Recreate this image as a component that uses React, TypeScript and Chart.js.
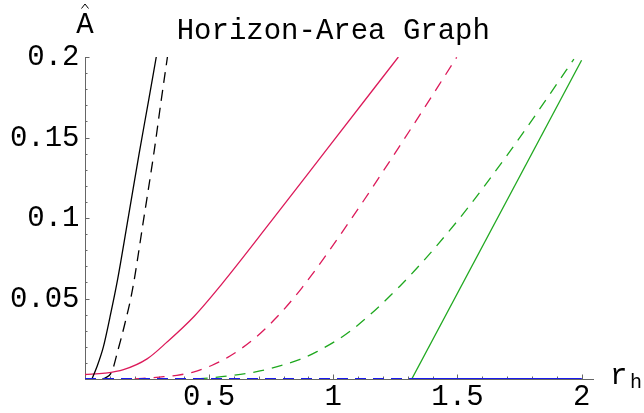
import React, { useEffect, useRef } from "react";
import { Chart, registerables } from "chart.js";

Chart.register(...registerables);

// ---- data ----
const blackSolidX = [0.028, 0.048, 0.074, 0.1, 0.131, 0.175, 0.218, 0.255, 0.287];
const blackSolidY = [0, 0.0076, 0.02, 0.038, 0.0615, 0.101, 0.14, 0.172, 0.2];

const blackDashX = [0.07, 0.081, 0.108, 0.132, 0.16, 0.191, 0.235, 0.279, 0.305, 0.332];
const blackDashY = [0, 0.0006, 0.0045, 0.0175, 0.034, 0.0553, 0.098, 0.142, 0.171, 0.2];

const redSolidX = [0, 0.08, 0.155, 0.25, 0.33, 0.44, 0.55, 0.75, 0.97, 1.262];
const redSolidY = [0.0028, 0.0036, 0.0058, 0.0125, 0.0229, 0.039, 0.0588, 0.098, 0.1418, 0.2];

const redDashX = [0.2, 0.3, 0.37, 0.436, 0.51, 0.584, 0.678, 0.77, 0.873, 1.065, 1.28, 1.497];
const redDashY = [0, 0.0012, 0.0023, 0.0043, 0.0084, 0.0143, 0.0246, 0.038, 0.0565, 0.0978, 0.1477, 0.1998];

const greenDashX = [0.45, 0.585, 0.705, 0.866, 0.934, 1.068, 1.269, 1.5, 1.725, 1.873, 1.969];
const greenDashY = [0, 0.002, 0.005, 0.0122, 0.017, 0.0297, 0.0578, 0.0982, 0.1443, 0.1771, 0.1987];

const greenSolidX = [1.316, 2.0];
const greenSolidY = [0, 0.198];

const blueDashX = [0, 2.0];
const blueDashY = [0, 0];

const blueSolidX = [1.316, 2.0];
const blueSolidY = [0, 0];

const xMajorTicks = [0.5, 1, 1.5, 2];
const xMajorLabels = ["0.5", "1", "1.5", "2"];
const yMajorTicks = [0.05, 0.1, 0.15, 0.2];
const yMajorLabels = ["0.05", "0.1", "0.15", "0.2"];

const titleText = "Horizon-Area Graph";

const pts = (xs: number[], ys: number[]) => xs.map((x, i) => ({ x, y: ys[i] }));

const MONO = '"Liberation Mono", "Courier New", monospace';
const RED = "#dc1a5a";
const GREEN = "#1fa81f";
const BLUE = "#1a1aee";

const axesPlugin = {
  id: "mmaAxes",
  beforeDatasetsDraw(chart: any) {
    const { ctx, scales } = chart;
    const xs = scales.x;
    const ys = scales.y;
    const x0 = xs.getPixelForValue(0);
    const y0 = ys.getPixelForValue(0);
    const xEnd = xs.getPixelForValue(xs.max);
    const yTop = ys.getPixelForValue(ys.max);
    ctx.save();
    ctx.strokeStyle = "#666";
    ctx.lineWidth = 1;
    ctx.beginPath();
    ctx.moveTo(x0, y0 + 0.5);
    ctx.lineTo(xEnd, y0 + 0.5);
    ctx.moveTo(x0 + 0.5, y0);
    ctx.lineTo(x0 + 0.5, yTop);
    ctx.stroke();
    // x ticks (inward, pointing up)
    ctx.beginPath();
    for (let i = 1; i <= 20; i++) {
      const v = i * 0.1;
      const px = Math.round(xs.getPixelForValue(v)) + 0.5;
      const major = i % 5 === 0;
      ctx.moveTo(px, y0);
      ctx.lineTo(px, y0 - (major ? 4.5 : 2.5));
    }
    // y ticks (inward, pointing right)
    for (let i = 1; i <= 20; i++) {
      const v = i * 0.01;
      const py = Math.round(ys.getPixelForValue(v)) + 0.5;
      const major = i % 5 === 0;
      ctx.moveTo(x0, py);
      ctx.lineTo(x0 + (major ? 4.5 : 2.5), py);
    }
    ctx.stroke();
    ctx.restore();
  },
  afterDraw(chart: any) {
    const { ctx, scales } = chart;
    const xs = scales.x;
    const ys = scales.y;
    const x0 = xs.getPixelForValue(0);
    const y0 = ys.getPixelForValue(0);
    ctx.save();
    ctx.fillStyle = "#000";
    ctx.font = `29px ${MONO}`;
    ctx.textBaseline = "alphabetic";
    // x tick labels
    ctx.textAlign = "center";
    xMajorTicks.forEach((v, i) => {
      ctx.fillText(xMajorLabels[i], xs.getPixelForValue(v), y0 + 26);
    });
    // y tick labels
    ctx.textAlign = "right";
    yMajorTicks.forEach((v, i) => {
      ctx.fillText(yMajorLabels[i], x0 - 5.5, ys.getPixelForValue(v) + 8.4);
    });
    // title
    ctx.textAlign = "center";
    ctx.fillText(titleText, 333.3, 39.3);
    // y axis label: A with hat
    ctx.fillText("A", x0, 33.3);
    ctx.strokeStyle = "#000";
    ctx.lineWidth = 1;
    ctx.beginPath();
    ctx.moveTo(x0 - 3.5, 8.5);
    ctx.lineTo(x0, 4);
    ctx.lineTo(x0 + 3.5, 8.5);
    ctx.stroke();
    // x axis label r_h
    ctx.textAlign = "left";
    ctx.fillText("r", 610, 384);
    ctx.font = `20px ${MONO}`;
    ctx.fillText("h", 630, 388);
    ctx.restore();
  },
};

export default function App() {
  const canvasRef = useRef<HTMLCanvasElement | null>(null);

  useEffect(() => {
    const canvas = canvasRef.current;
    if (!canvas) return;
    const mk = (data: any, color: string, dash: number[], width = 1.3) => ({
      data,
      borderColor: color,
      backgroundColor: color,
      borderWidth: width,
      borderDash: dash,
      pointRadius: 0,
      cubicInterpolationMode: "monotone",
      fill: false,
    });
    const chart = new Chart(canvas, {
      type: "line",
      data: {
        datasets: [
          mk(pts(blueSolidX, blueSolidY), BLUE, [], 2),
          mk(pts(blueDashX, blueDashY), BLUE, [11, 7], 2),
          mk(pts(blackSolidX, blackSolidY), "#000", []),
          mk(pts(blackDashX, blackDashY), "#000", [11, 7]),
          mk(pts(redSolidX, redSolidY), RED, []),
          mk(pts(redDashX, redDashY), RED, [11, 8]),
          mk(pts(greenSolidX, greenSolidY), GREEN, []),
          mk(pts(greenDashX, greenDashY), GREEN, [11, 8]),
        ] as any,
      },
      options: {
        animation: false,
        responsive: false,
        devicePixelRatio: 1,
        layout: { padding: { left: 85, right: 50, top: 57, bottom: 34 } },
        plugins: { legend: { display: false }, tooltip: { enabled: false }, title: { display: false } },
        scales: {
          x: { type: "linear", min: 0, max: 2.05, display: false },
          y: { type: "linear", min: 0, max: 0.2, display: false },
        },
      },
      plugins: [axesPlugin],
    } as any);
    return () => chart.destroy();
  }, []);

  return (
    <div style={{ position: "absolute", left: 0, top: 0, width: 644, height: 413, background: "#fff" }}>
      <canvas ref={canvasRef} width={644} height={413} style={{ width: 644, height: 413, display: "block" }} />
    </div>
  );
}
